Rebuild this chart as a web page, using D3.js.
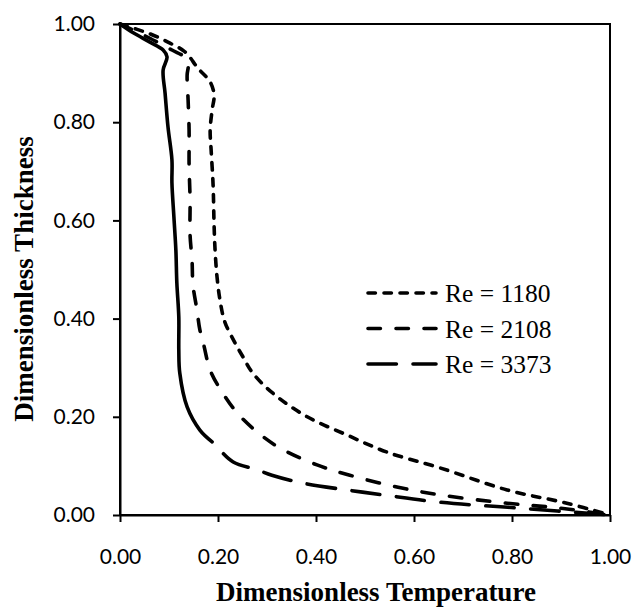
<!DOCTYPE html>
<html>
<head>
<meta charset="utf-8">
<script src="https://cdn.jsdelivr.net/npm/d3@7"></script>
<style>
  html, body { margin: 0; padding: 0; background: #fff; }
  svg { display: block; }
</style>
</head>
<body>
<svg id="chart" width="642" height="608"></svg>
<script>
// Temperature (x) and thickness (y) profiles for three Reynolds numbers
const re1180T = [0, 0.061, 0.102, 0.133, 0.159, 0.184, 0.192, 0.188, 0.184, 0.186, 0.190, 0.192, 0.194, 0.198, 0.204, 0.214, 0.235, 0.251, 0.271, 0.312, 0.382, 0.463, 0.545, 0.653, 0.790, 0.912, 1.0];
const re1180Y = [1.0, 0.980, 0.961, 0.943, 0.910, 0.882, 0.855, 0.825, 0.784, 0.743, 0.672, 0.591, 0.540, 0.485, 0.438, 0.393, 0.350, 0.322, 0.289, 0.248, 0.200, 0.163, 0.128, 0.096, 0.051, 0.024, 0.0];

const re2108T = [0, 0.061, 0.106, 0.131, 0.139, 0.137, 0.139, 0.141, 0.141, 0.143, 0.143, 0.147, 0.149, 0.157, 0.163, 0.171, 0.184, 0.208, 0.239, 0.280, 0.327, 0.402, 0.469, 0.565, 0.653, 0.790, 0.898, 1.0];
const re2108Y = [1.0, 0.971, 0.947, 0.933, 0.916, 0.896, 0.845, 0.784, 0.713, 0.642, 0.570, 0.519, 0.468, 0.418, 0.377, 0.346, 0.295, 0.251, 0.208, 0.169, 0.136, 0.102, 0.081, 0.057, 0.041, 0.024, 0.014, 0.0];

const re3373T = [0, 0.027, 0.061, 0.088, 0.096, 0.088, 0.092, 0.098, 0.106, 0.106, 0.110, 0.114, 0.116, 0.120, 0.120, 0.122, 0.137, 0.163, 0.188, 0.204, 0.231, 0.280, 0.310, 0.373, 0.463, 0.537, 0.653, 0.816, 1.0];
const re3373Y = [1.0, 0.982, 0.963, 0.947, 0.933, 0.906, 0.859, 0.790, 0.723, 0.676, 0.607, 0.540, 0.473, 0.403, 0.336, 0.289, 0.220, 0.173, 0.149, 0.132, 0.108, 0.092, 0.081, 0.065, 0.051, 0.041, 0.026, 0.014, 0.0];

const seriesLabels = ["Re = 1180", "Re = 2108", "Re = 3373"];
const xTicks = [0, 0.2, 0.4, 0.6, 0.8, 1.0];
const yTicks = [0, 0.2, 0.4, 0.6, 0.8, 1.0];

// Line styles: short dash, dash, long dash (round caps shorten the gaps)
const lineW = 3.6;
const dashStyles = ["7.4,8.6", "12.4,15.6", "28.4,16.6"];
// The densely sampled upper part of the Re = 3373 profile renders as a continuous stroke
const solidAboveY = 0.149;

const svg = d3.select("#chart");
const plot = { left: 120, right: 610, top: 24, bottom: 515 };

const x = d3.scaleLinear().domain([0, 1]).range([plot.left, plot.right]);
const y = d3.scaleLinear().domain([0, 1]).range([plot.bottom, plot.top]);

const tickFont = "Lato, 'Open Sans', sans-serif";
const titleFont = "'Liberation Serif', 'Times New Roman', serif";

// Plot frame
svg.append("rect")
  .attr("x", plot.left).attr("y", plot.top)
  .attr("width", plot.right - plot.left).attr("height", plot.bottom - plot.top)
  .attr("fill", "none").attr("stroke", "#000").attr("stroke-width", 2);

// Axes
const fmt = d3.format(".2f");
const gx = svg.append("g").attr("transform", `translate(0,${plot.bottom})`)
  .call(d3.axisBottom(x).tickValues(xTicks).tickFormat(fmt).tickSize(7).tickSizeOuter(0).tickPadding(27));
const gy = svg.append("g").attr("transform", `translate(${plot.left},0)`)
  .call(d3.axisLeft(y).tickValues(yTicks).tickFormat(fmt).tickSize(7).tickSizeOuter(0).tickPadding(18));

[gx, gy].forEach(g => {
  g.select(".domain").attr("stroke", "#000").attr("stroke-width", 2);
  g.selectAll(".tick line").attr("stroke", "#000").attr("stroke-width", 2);
  g.selectAll(".tick text")
    .attr("fill", "#000")
    .style("font-family", tickFont)
    .style("font-size", "21px");
});

// Axis titles
svg.append("text")
  .attr("x", 376).attr("y", 601)
  .attr("text-anchor", "middle")
  .style("font-family", titleFont).style("font-weight", "bold").style("font-size", "27px")
  .text("Dimensionless Temperature");

svg.append("text")
  .attr("transform", "translate(33,279) rotate(-90)")
  .attr("text-anchor", "middle")
  .style("font-family", titleFont).style("font-weight", "bold").style("font-size", "27px")
  .text("Dimensionless Thickness");

// Curves
const line = d3.line()
  .x(d => x(d[0])).y(d => y(d[1]))
  .curve(d3.curveCatmullRom.alpha(0.5));

const zipPts = (t, v) => t.map((d, i) => [d, v[i]]);
const pts1180 = zipPts(re1180T, re1180Y);
const pts2108 = zipPts(re2108T, re2108Y);
const pts3373 = zipPts(re3373T, re3373Y);

const curves = svg.append("g").attr("fill", "none").attr("stroke", "#000")
  .attr("stroke-width", lineW).attr("stroke-linecap", "round").attr("stroke-linejoin", "round");

curves.append("path").attr("d", line(pts1180)).attr("stroke-dasharray", dashStyles[0]);
curves.append("path").attr("d", line(pts2108)).attr("stroke-dasharray", dashStyles[1]);

const split = pts3373.findIndex(p => p[1] <= solidAboveY);
curves.append("path").attr("d", line(pts3373.slice(0, split + 1)));
curves.append("path").attr("d", line(pts3373.slice(split)))
  .attr("stroke-dasharray", dashStyles[2])
  .attr("stroke-dashoffset", 28.4);

// Legend
const legend = svg.append("g");
const legendY = d3.scalePoint().domain(seriesLabels).range([293, 364]);
seriesLabels.forEach((lab, i) => {
  legend.append("line")
    .attr("x1", 368).attr("x2", 436)
    .attr("y1", legendY(lab)).attr("y2", legendY(lab))
    .attr("stroke", "#000").attr("stroke-width", lineW)
    .attr("stroke-linecap", "round")
    .attr("stroke-dasharray", dashStyles[i]);
  legend.append("text")
    .attr("x", 445).attr("y", legendY(lab) + 9)
    .style("font-family", titleFont).style("font-size", "25.5px")
    .text(lab);
});
</script>
</body>
</html>
